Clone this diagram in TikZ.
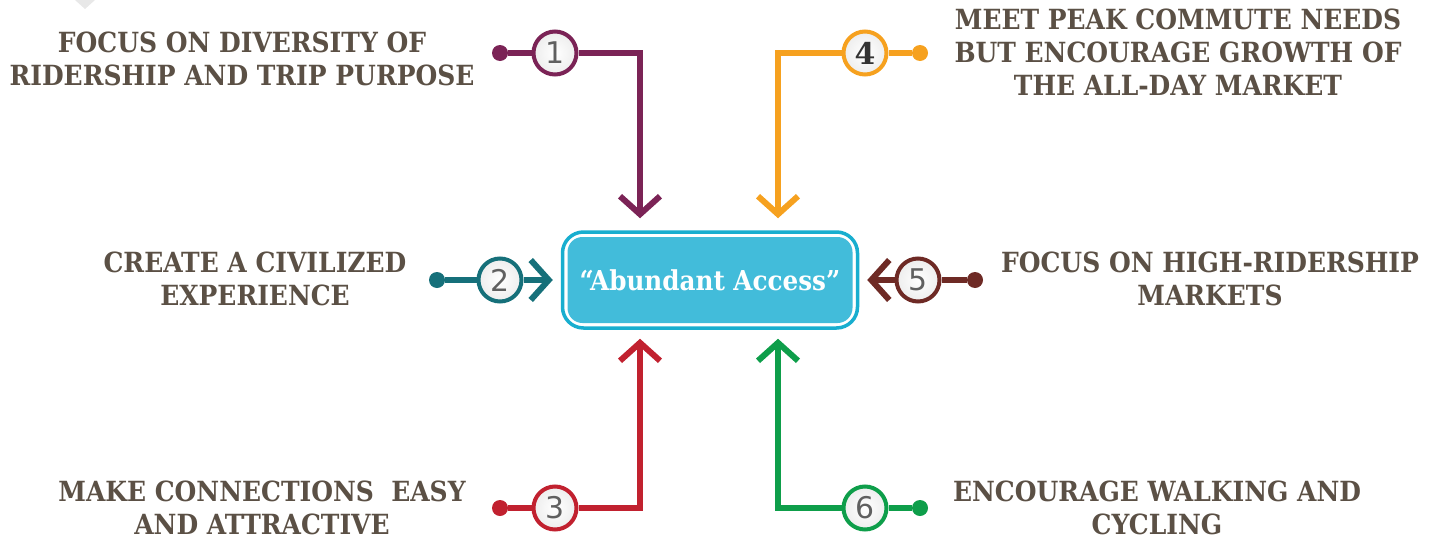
\documentclass[tikz,border=0pt]{standalone}
\usepackage{fontspec}
\setmainfont{DejaVu Serif}
\setsansfont{DejaVu Sans}
\newfontfamily\condserif[Ligatures=TeX]{DejaVu Serif Condensed}
\usetikzlibrary{arrows.meta}

\definecolor{txtgray}{HTML}{5B5045}
\definecolor{cpurple}{HTML}{7B2356}
\definecolor{corange}{HTML}{F6A11F}
\definecolor{cteal}{HTML}{16707A}
\definecolor{cbrown}{HTML}{6E2A25}
\definecolor{cred}{HTML}{C1212F}
\definecolor{cgreen}{HTML}{0E9E4A}
\definecolor{boxfill}{HTML}{42BCDA}
\definecolor{boxline}{HTML}{18AECF}

\tikzset{
  goal/.style={align=center, text=txtgray, font=\condserif\bfseries\fontsize{15.8}{18.7}\selectfont},
  numdot/.style={circle, fill=#1, inner sep=0pt, minimum size=0.32cm},
  numcirc/.style={circle, draw=#1, line width=0.08cm, inner color=white, outer color=gray!14,
    minimum size=0.86cm, inner sep=0pt, text=gray!75!black, font=\sffamily\fontsize{17}{17}\selectfont},
  link/.style={#1, line width=0.12cm},
  arrowlink/.style={#1, line width=0.12cm, -{Straight Barb[length=0.36cm, width=0.8cm]}}
}

\begin{document}
\begin{tikzpicture}
\useasboundingbox (0,0) rectangle (28.8,10.84);

\fill[gray!18] (1.5,10.84) -- (1.9,10.84) -- (1.7,10.66) -- cycle;

% centre box
\node[draw=boxline, line width=0.07cm, rounded corners=0.42cm, minimum width=5.9cm, minimum height=1.92cm] (outer) at (14.2,5.24) {};
\node[fill=boxfill, rounded corners=0.3cm, minimum width=5.7cm, minimum height=1.72cm, inner sep=0pt,
  text=white, font=\condserif\bfseries\fontsize{15.6}{15.6}\selectfont] (box) at (14.2,5.24) {``Abundant Access''};

% 1
\node[goal] (t1) at (4.84,9.67) {FOCUS ON DIVERSITY OF\\RIDERSHIP AND TRIP PURPOSE};
\node[numdot=cpurple] (d1) at (10.0,9.78) {};
\node[numcirc=cpurple] (n1) at (11.1,9.78) {1};
\coordinate (c1) at (12.8,9.78);
\draw[link=cpurple] (d1) -- (n1);
\draw[arrowlink=cpurple] (n1) -- (c1) -- ([yshift=0.24cm]outer.north -| c1);

% 4
\node[goal] (t4) at (23.56,9.8) {MEET PEAK COMMUTE NEEDS\\BUT ENCOURAGE GROWTH OF\\THE ALL-DAY MARKET};
\node[numdot=corange] (d4) at (18.4,9.78) {};
\node[numcirc=corange, text=gray!40!black, font=\bfseries\fontsize{17}{17}\selectfont] (n4) at (17.3,9.78) {4};
\coordinate (c4) at (15.56,9.78);
\draw[link=corange] (d4) -- (n4);
\draw[arrowlink=corange] (n4) -- (c4) -- ([yshift=0.24cm]outer.north -| c4);

% 2
\node[goal] (t2) at (5.1,5.26) {CREATE A CIVILIZED\\EXPERIENCE};
\node[numdot=cteal] (d2) at (8.74,5.24) {};
\node[numcirc=cteal] (n2) at (10.0,5.24) {2};
\draw[link=cteal] (d2) -- (n2);
\draw[arrowlink=cteal] (n2) -- ([xshift=-0.16cm]outer.west);

% 5
\node[goal] (t5) at (24.2,5.26) {FOCUS ON HIGH-RIDERSHIP\\MARKETS};
\node[numdot=cbrown] (d5) at (19.5,5.24) {};
\node[numcirc=cbrown] (n5) at (18.36,5.24) {5};
\draw[link=cbrown] (d5) -- (n5);
\draw[arrowlink=cbrown] (n5) -- ([xshift=0.16cm]outer.east);

% 3
\node[goal] (t3) at (5.24,0.68) {MAKE CONNECTIONS\ \ EASY\\AND ATTRACTIVE};
\node[numdot=cred] (d3) at (10.0,0.68) {};
\node[numcirc=cred] (n3) at (11.1,0.68) {3};
\coordinate (c3) at (12.8,0.68);
\draw[link=cred] (d3) -- (n3);
\draw[arrowlink=cred] (n3) -- (c3) -- ([yshift=-0.18cm]outer.south -| c3);

% 6
\node[goal] (t6) at (23.14,0.68) {ENCOURAGE WALKING AND\\CYCLING};
\node[numdot=cgreen] (d6) at (18.4,0.68) {};
\node[numcirc=cgreen] (n6) at (17.3,0.68) {6};
\coordinate (c6) at (15.56,0.68);
\draw[link=cgreen] (d6) -- (n6);
\draw[arrowlink=cgreen] (n6) -- (c6) -- ([yshift=-0.18cm]outer.south -| c6);
\end{tikzpicture}
\end{document}
